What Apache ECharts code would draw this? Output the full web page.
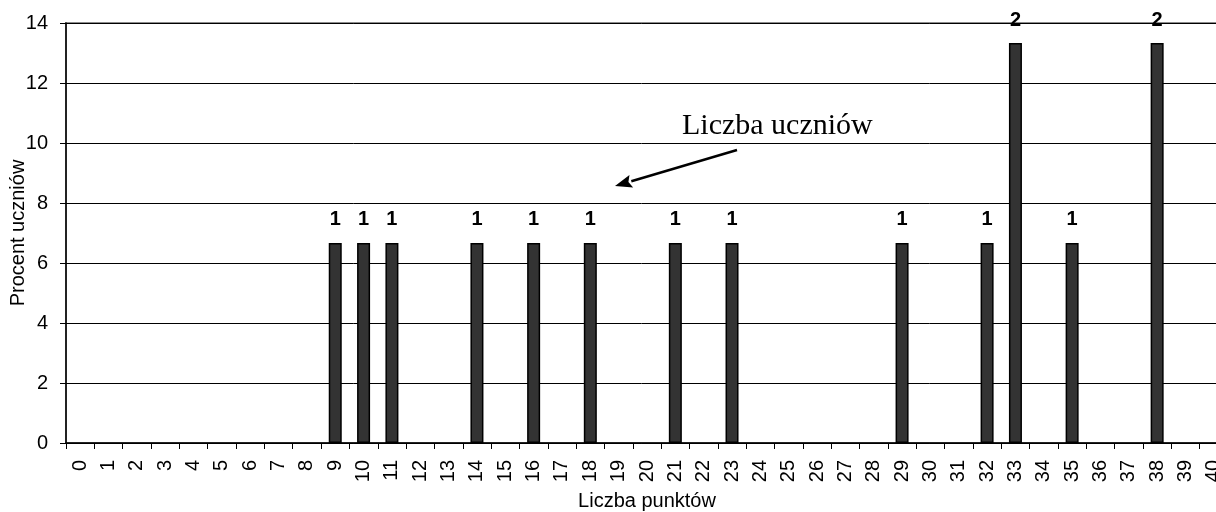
<!DOCTYPE html>
<html>
<head>
<meta charset="utf-8">
<title>Liczba punktów</title>
<script src="https://cdn.jsdelivr.net/npm/echarts@6/dist/echarts.min.js"></script>
<style>
  html, body { margin: 0; padding: 0; background: #fff; }
  #chart { width: 1216px; height: 512px; }
</style>
</head>
<body>
<div id="chart"></div>
<script>
// liczba punktow (os X)
const scores = ['0', '1', '2', '3', '4', '5', '6', '7', '8', '9', '10',
  '11', '12', '13', '14', '15', '16', '17', '18', '19', '20',
  '21', '22', '23', '24', '25', '26', '27', '28', '29', '30',
  '31', '32', '33', '34', '35', '36', '37', '38', '39', '40'];
// liczba uczniow - etykiety nad slupkami
const studentCounts = [0, 0, 0, 0, 0, 0, 0, 0, 0, 1, 1,
  1, 0, 0, 1, 0, 1, 0, 1, 0, 0,
  1, 0, 1, 0, 0, 0, 0, 0, 1, 0,
  0, 1, 2, 0, 1, 0, 0, 2, 0, 0];
// procent uczniow - wysokosc slupkow
const percents = [null, null, null, null, null, null, null, null, null, 6.67, 6.67,
  6.67, null, null, 6.67, null, 6.67, null, 6.67, null, null,
  6.67, null, 6.67, null, null, null, null, null, 6.67, null,
  null, 6.67, 13.33, null, 6.67, null, null, 13.33, null, null];
const yTicks = [0, 2, 4, 6, 8, 10, 12, 14];

const sans = '"Liberation Sans", Arial, sans-serif';
const serif = '"Liberation Serif", "Times New Roman", serif';

// strzalka adnotacji
const arrowFrom = [737, 150];
const arrowTo = [615, 186];
const dx = arrowTo[0] - arrowFrom[0], dy = arrowTo[1] - arrowFrom[1];
const len = Math.sqrt(dx * dx + dy * dy);
const ux = dx / len, uy = dy / len;
const headLen = 17, headHalf = 6.5;
const bx = arrowTo[0] - ux * headLen, by = arrowTo[1] - uy * headLen;

let chart = echarts.init(document.getElementById('chart'));
chart.setOption({
  animation: false,
  backgroundColor: '#fff',
  textStyle: { fontFamily: sans },
  grid: {
    left: 66,
    right: -12,
    top: 23,
    bottom: 69,
    outerBoundsMode: 'none',
    containLabel: false,
    show: true,
    borderColor: '#8c8c8c',
    borderWidth: 2,
    backgroundColor: 'transparent'
  },
  xAxis: {
    type: 'category',
    data: scores,
    boundaryGap: true,
    name: 'Liczba punktów',
    nameLocation: 'middle',
    nameGap: 48,
    nameMoveOverlap: false,
    nameTextStyle: { fontSize: 20, color: '#000', fontFamily: sans },
    axisLine: { show: true, lineStyle: { color: '#000', width: 1.5 } },
    axisTick: { show: true, interval: 0, alignWithLabel: false, length: 6, lineStyle: { color: '#000' } },
    axisLabel: {
      interval: 0,
      rotate: 90,
      margin: 17,
      fontSize: 20,
      color: '#000',
      fontFamily: sans,
      hideOverlap: false
    },
    splitLine: { show: false }
  },
  yAxis: {
    type: 'value',
    min: yTicks[0],
    max: yTicks[yTicks.length - 1],
    interval: 2,
    name: 'Procent uczniów',
    nameLocation: 'middle',
    nameGap: 38,
    nameMoveOverlap: false,
    nameTextStyle: { fontSize: 20, color: '#000', fontFamily: sans },
    axisLine: { show: true, lineStyle: { color: '#000', width: 1.5 } },
    axisTick: { show: true, length: 6, lineStyle: { color: '#000' } },
    axisLabel: { margin: 18, fontSize: 20, color: '#000', fontFamily: sans },
    splitLine: { show: true, lineStyle: { color: '#000', width: 1 } }
  },
  series: [
    {
      name: 'Procent uczniów',
      type: 'bar',
      data: percents,
      barWidth: 13,
      itemStyle: { color: '#333333', borderColor: '#000', borderWidth: 1.5 },
      label: {
        show: true,
        position: 'top',
        distance: 13,
        fontSize: 20,
        fontWeight: 'bold',
        color: '#000',
        fontFamily: sans,
        formatter: function (p) { return String(studentCounts[p.dataIndex]); }
      }
    }
  ],
  graphic: [
    {
      type: 'text',
      x: 682,
      y: 126,
      style: {
        text: 'Liczba uczniów',
        font: '30px ' + serif,
        fill: '#000',
        verticalAlign: 'middle'
      }
    },
    {
      type: 'line',
      shape: { x1: arrowFrom[0], y1: arrowFrom[1], x2: bx, y2: by },
      style: { stroke: '#000', lineWidth: 2.5 }
    },
    {
      type: 'polygon',
      shape: {
        points: [
          arrowTo,
          [bx - uy * headHalf, by + ux * headHalf],
          [bx + ux * 3, by + uy * 3],
          [bx + uy * headHalf, by - ux * headHalf]
        ]
      },
      style: { fill: '#000' }
    }
  ]
});
</script>
</body>
</html>
